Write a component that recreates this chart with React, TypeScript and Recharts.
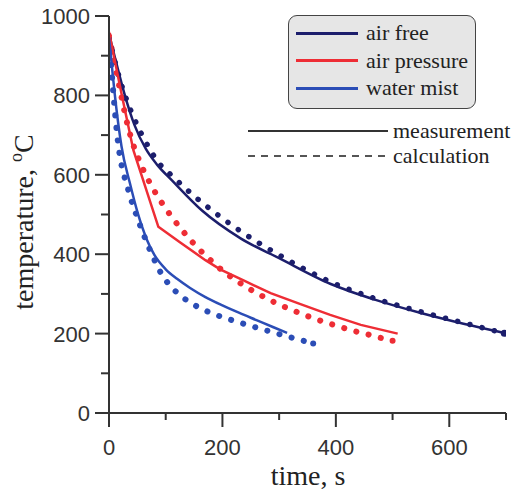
import { Line, LineChart, XAxis, YAxis } from 'recharts';

// time (s) / temperature (°C) pairs
const airFreeMeasTime = [0, 10, 28, 45, 65, 85, 111, 164, 232, 300, 391, 470, 550, 625, 700];
const airFreeMeasTemp = [955, 898, 800, 725, 665, 625, 586, 510, 440, 390, 325, 285, 252, 225, 201];
const airFreeCalcTime = [0, 10, 20, 30, 45, 69, 85, 113, 149, 180, 232, 300, 391, 470, 550, 625, 697];
const airFreeCalcTemp = [945, 888, 836, 793, 740, 672, 635, 595, 548, 512, 458, 398, 330, 288, 255, 227, 201];

const airPressMeasTime = [0, 22, 43, 87, 125, 170, 196, 240, 285, 340, 390, 444, 509];
const airPressMeasTemp = [960, 805, 662, 469, 430, 385, 362, 332, 302, 273, 247, 222, 200];
const airPressCalcTime = [0, 10, 20, 30, 40, 50, 60, 70, 81, 92, 105, 118, 131, 146, 162, 182, 200, 217, 237, 258, 279, 299, 320, 343, 364, 387, 410, 431, 456, 477, 500];
const airPressCalcTemp = [950, 880, 810, 742, 688, 648, 614, 585, 557, 532, 505, 480, 457, 432, 408, 381, 359, 341, 322, 304, 288, 274, 261, 248, 237, 226, 216, 207, 198, 190, 182];

const waterMeasTime = [0, 5, 10, 22, 37, 51, 67, 80, 100, 120, 143, 170, 200, 230, 260, 290, 314];
const waterMeasTemp = [945, 875, 805, 672, 578, 502, 436, 398, 362, 338, 315, 292, 271, 252, 234, 216, 202];
const waterCalcTime = [0, 4, 8, 12, 16, 20, 25, 32, 38, 46, 55, 62, 70, 78, 88, 104, 120, 138, 157, 178, 201, 223, 246, 270, 292, 314, 338, 360];
const waterCalcTemp = [940, 870, 800, 735, 680, 640, 607, 572, 542, 508, 472, 446, 418, 392, 362, 327, 303, 283, 267, 253, 241, 231, 221, 211, 202, 193, 184, 175];

const xTicks = [0, 100, 200, 300, 400, 500, 600, 700];
const yTicks = [0, 100, 200, 300, 400, 500, 600, 700, 800, 900, 1000];

const seriesNames = ['air free', 'air pressure', 'water mist'];
const seriesColors = ['#1c1e6c', '#ee2d35', '#2b4db6'];

const zip = (ts: number[], vs: number[]) => ts.map((t, i) => ({ t, v: vs[i] }));

const axisColor = '#333';
const serif = "'Liberation Serif', 'Times New Roman', serif";
const sans = "'Liberation Sans', Arial, sans-serif";

function XTick({ x, y, payload }: any) {
  const major = payload.value % 200 === 0;
  return (
    <g>
      <line x1={x} x2={x} y1={y} y2={y + (major ? 14 : 7)} stroke={axisColor} strokeWidth={2} />
      {major && (
        <text x={x} y={y + 42} textAnchor="middle" fontSize={22} fill="#333" fontFamily={sans}>
          {payload.value}
        </text>
      )}
    </g>
  );
}

function YTick({ x, y, payload }: any) {
  const major = payload.value % 200 === 0;
  return (
    <g>
      <line x1={x - (major ? 14 : 8)} x2={x} y1={y} y2={y} stroke={axisColor} strokeWidth={2} />
      {major && (
        <text x={x - 19} y={y + 8} textAnchor="end" fontSize={22} fill="#333" fontFamily={sans}>
          {payload.value}
        </text>
      )}
    </g>
  );
}

function LegendBox() {
  const row = { position: 'absolute' as const, display: 'flex', alignItems: 'center', height: 22 };
  const label = { fontSize: 22, lineHeight: '22px', color: '#222', whiteSpace: 'nowrap' as const };
  return (
    <div style={{ position: 'absolute', left: 0, top: 0, width: 512, height: 170, fontFamily: serif, pointerEvents: 'none' }}>
      <div
        style={{
          position: 'absolute',
          left: 288,
          top: 15,
          width: 186,
          height: 92,
          background: '#e6e6e6',
          border: '1.5px solid #444',
          borderRadius: 9,
        }}
      />
      {seriesNames.map((name, i) => (
        <div key={name} style={{ ...row, left: 296, top: 33 + i * 27.5 - 11 }}>
          <div style={{ width: 62, height: 3, background: seriesColors[i] }} />
          <span style={{ ...label, marginLeft: 8 }}>{name}</span>
        </div>
      ))}
      <div style={{ ...row, left: 248, top: 120 }}>
        <div style={{ width: 140, height: 2.5, background: '#333' }} />
        <span style={{ ...label, marginLeft: 5 }}>measurement</span>
      </div>
      <div style={{ ...row, left: 248, top: 145 }}>
        <div
          style={{
            width: 140,
            height: 1.5,
            background: 'repeating-linear-gradient(to right, #555 0px, #555 7px, transparent 7px, transparent 13px)',
          }}
        />
        <span style={{ ...label, marginLeft: 5 }}>calculation</span>
      </div>
    </div>
  );
}

export default function App() {
  const meas = [zip(airFreeMeasTime, airFreeMeasTemp), zip(airPressMeasTime, airPressMeasTemp), zip(waterMeasTime, waterMeasTemp)];
  const calc = [zip(airFreeCalcTime, airFreeCalcTemp), zip(airPressCalcTime, airPressCalcTemp), zip(waterCalcTime, waterCalcTemp)];

  return (
    <div style={{ position: 'absolute', left: 0, top: 0, width: 512, height: 490, background: '#fff' }}>
      <LineChart width={512} height={490} margin={{ top: 16, right: 6, left: 49, bottom: 47 }}>
        <XAxis
          type="number"
          dataKey="t"
          domain={[0, 700]}
          ticks={xTicks}
          allowDataOverflow
          height={30}
          stroke={axisColor}
          strokeWidth={2}
          tickLine={false}
          tickSize={0}
          tickMargin={0}
          tick={<XTick />}
          interval={0}
        />
        <YAxis
          type="number"
          dataKey="v"
          domain={[0, 1000]}
          ticks={yTicks}
          width={60}
          stroke={axisColor}
          strokeWidth={2}
          tickLine={false}
          tickSize={0}
          tickMargin={0}
          tick={<YTick />}
          interval={0}
        />
        {calc.map((d, i) => (
          <Line
            key={'c' + i}
            data={d}
            dataKey="v"
            type="monotone"
            stroke={seriesColors[i]}
            strokeWidth={i === 0 ? 5.5 : 6}
            strokeDasharray="0.1 12.5"
            strokeLinecap="round"
            dot={(p: any) =>
              p.index === d.length - 1 ? (
                <circle key={p.key} cx={p.cx} cy={p.cy} r={i === 0 ? 3.5 : 3} fill={seriesColors[i]} />
              ) : (
                <g key={p.key} />
              )
            }
            activeDot={false}
            isAnimationActive={false}
            legendType="none"
          />
        ))}
        {meas.map((d, i) => (
          <Line
            key={'m' + i}
            data={d}
            dataKey="v"
            type={i === 1 ? 'linear' : 'monotone'}
            stroke={seriesColors[i]}
            strokeWidth={2.5}
            dot={false}
            activeDot={false}
            isAnimationActive={false}
            legendType="none"
          />
        ))}
        <text x={308} y={485} textAnchor="middle" fontSize={28} fontFamily={serif} fill="#222">
          time, s
        </text>
        <text x={33} y={222} transform="rotate(-90 33 222)" textAnchor="middle" fontSize={28} fontFamily={serif} fill="#222">
          temperature,{' '}
          <tspan dy={-11} fontSize={18}>o</tspan>
          <tspan dy={11}>C</tspan>
        </text>
      </LineChart>
      <LegendBox />
    </div>
  );
}
